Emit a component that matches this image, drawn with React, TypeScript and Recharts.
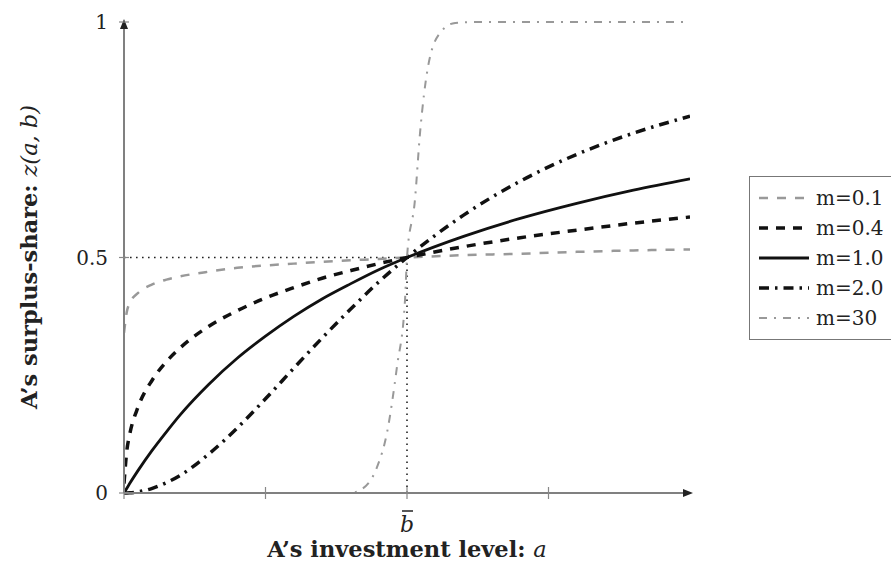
import { LineChart, Line, XAxis, YAxis, ReferenceLine, ReferenceDot } from 'recharts'

// investment level a (b̄ = 1) and surplus-share values
const aGrid = [0, 0.01, 0.02, 0.05, 0.1, 0.15, 0.2, 0.3, 0.4, 0.5, 0.6, 0.7, 0.8, 0.9, 1.0, 1.2, 1.4, 1.6, 1.8, 2.0]
const m01 = [0.34, 0.385, 0.403, 0.425, 0.443, 0.453, 0.46, 0.47, 0.478, 0.483, 0.487, 0.491, 0.494, 0.497, 0.5, 0.505, 0.508, 0.512, 0.515, 0.517]
const m04 = [0.02, 0.09, 0.124, 0.183, 0.24, 0.279, 0.309, 0.354, 0.387, 0.414, 0.436, 0.456, 0.472, 0.487, 0.5, 0.523, 0.542, 0.558, 0.573, 0.586]
const m10 = [0, 0.01, 0.02, 0.048, 0.091, 0.13, 0.167, 0.231, 0.286, 0.333, 0.375, 0.412, 0.444, 0.474, 0.5, 0.545, 0.583, 0.615, 0.643, 0.667]
const m20 = [0, 0.0001, 0.0004, 0.0025, 0.0099, 0.022, 0.038, 0.083, 0.138, 0.2, 0.265, 0.329, 0.39, 0.448, 0.5, 0.59, 0.662, 0.719, 0.764, 0.8]

const aSteep = [0, 0.8, 0.834, 0.894, 0.929, 0.965, 0.993, 1.0, 1.028, 1.046, 1.074, 1.117, 1.17, 1.25, 2.0]
const m30 = [0, 0, 0.006, 0.055, 0.127, 0.27, 0.41, 0.5, 0.622, 0.764, 0.904, 0.977, 0.998, 1, 1]

const yTicks = [0, 0.5, 1]
const xTicks = [0, 0.5, 1, 1.5]

const rows = aGrid.map((a, i) => ({ a, m01: m01[i], m04: m04[i], m10: m10[i], m20: m20[i] }))
const steepRows = aSteep.map((a, i) => ({ a, m30: m30[i] }))

const SERIF = '"DejaVu Serif", serif'
const GRAY = '#999'

const series = [
  { key: 'm01', name: 'm=0.1', color: GRAY, width: 2.5, dash: '9 9' },
  { key: 'm04', name: 'm=0.4', color: '#111', width: 3.5, dash: '9 8' },
  { key: 'm10', name: 'm=1.0', color: '#111', width: 2.8, dash: undefined },
  { key: 'm20', name: 'm=2.0', color: '#111', width: 3.5, dash: '10 6 2.5 6' },
  { key: 'm30', name: 'm=30', color: GRAY, width: 2, dash: '8 7 2 7' },
]

const YTick = (props: any) => {
  const { x, y, payload } = props
  return (
    <g>
      <line x1={x - 5} x2={x + 5} y1={y} y2={y} stroke="#888" strokeWidth={1.2} />
      <text x={x - 16} y={y} textAnchor="end" dominantBaseline="central" fontFamily={SERIF} fontSize={20} fill="#222">
        {payload.value}
      </text>
    </g>
  )
}

const XTick = (props: any) => {
  const { x, y, payload } = props
  return (
    <g>
      <line x1={x} x2={x} y1={y - 6} y2={y + 6} stroke="#888" strokeWidth={1.2} />
      {payload.value === 1 && (
        <g>
          <line x1={x - 5} x2={x + 6} y1={y + 18} y2={y + 18} stroke="#222" strokeWidth={1.5} />
          <text x={x} y={y + 39} textAnchor="middle" fontFamily={SERIF} fontStyle="italic" fontSize={22} fill="#222">
            b
          </text>
        </g>
      )}
    </g>
  )
}

const ArrowRight = (props: any) => (
  <polygon points={`${props.cx + 3},${props.cy} ${props.cx - 7},${props.cy - 4} ${props.cx - 7},${props.cy + 4}`} fill="#222" />
)
const ArrowUp = (props: any) => (
  <polygon points={`${props.cx},${props.cy - 3} ${props.cx - 4},${props.cy + 7} ${props.cx + 4},${props.cy + 7}`} fill="#222" />
)

const titleStyle = {
  position: 'absolute' as const,
  whiteSpace: 'nowrap' as const,
  fontFamily: SERIF,
  fontSize: 22.5,
  lineHeight: '22px',
  fontWeight: 'bold' as const,
  color: '#222',
}

export default function App() {
  return (
    <div style={{ position: 'absolute', left: 0, top: 0, width: 891, height: 564, overflow: 'hidden', background: '#fff' }}>
      <LineChart width={891} height={564} data={rows} margin={{ top: 22, right: 201, bottom: 31, left: 64 }}>
        <XAxis
          type="number"
          dataKey="a"
          domain={[0, 2]}
          ticks={xTicks}
          tick={<XTick />}
          tickSize={0}
          tickMargin={0}
          tickLine={false}
          axisLine={{ stroke: '#808080', strokeWidth: 2 }}
          height={40}
          allowDataOverflow
        />
        <YAxis
          type="number"
          domain={[0, 1]}
          ticks={yTicks}
          tick={<YTick />}
          tickSize={0}
          tickMargin={0}
          tickLine={false}
          axisLine={{ stroke: '#808080', strokeWidth: 2 }}
          width={60}
        />
        <ReferenceLine
          segment={[{ x: 0, y: 0.5 }, { x: 1, y: 0.5 }]}
          stroke="#222"
          strokeWidth={1.6}
          strokeDasharray="1.6 4.4"
        />
        <ReferenceLine
          segment={[{ x: 1, y: 0 }, { x: 1, y: 0.5 }]}
          stroke="#222"
          strokeWidth={1.6}
          strokeDasharray="1.6 4.4"
        />
        {series.slice(0, 4).map(s => (
          <Line
            key={s.key}
            type="monotone"
            dataKey={s.key}
            stroke={s.color}
            strokeWidth={s.width}
            strokeDasharray={s.dash}
            dot={false}
            activeDot={false}
            isAnimationActive={false}
          />
        ))}
        <Line
          data={steepRows}
          type="monotone"
          dataKey="m30"
          stroke={GRAY}
          strokeWidth={2}
          strokeDasharray="8 7 2 7"
          dot={false}
          activeDot={false}
          isAnimationActive={false}
        />
        <ReferenceDot x={2} y={0} r={4} shape={<ArrowRight />} ifOverflow="visible" />
        <ReferenceDot x={0} y={1} r={4} shape={<ArrowUp />} ifOverflow="visible" />
      </LineChart>

      <div style={{ ...titleStyle, left: 407, top: 538, transform: 'translateX(-50%)' }}>
        A’s investment level: <span style={{ fontStyle: 'italic', fontWeight: 'normal' }}>a</span>
      </div>

      <div style={{ ...titleStyle, left: 29, top: 257, transform: 'translate(-50%, -50%) rotate(-90deg)' }}>
        A’s surplus-share: <span style={{ fontStyle: 'italic', fontWeight: 'normal' }}>z(a, b)</span>
      </div>

      <div
        style={{
          position: 'absolute',
          left: 749,
          top: 176,
          width: 160,
          border: '1.5px solid #777',
          padding: '6px 0',
          fontFamily: SERIF,
          fontSize: 20,
          color: '#222',
        }}
      >
        {series.map(s => (
          <div key={s.key} style={{ height: 30, display: 'flex', alignItems: 'center' }}>
            <svg width={66} height={12} style={{ flex: 'none' }}>
              <line
                x1={9}
                x2={59}
                y1={6}
                y2={6}
                stroke={s.color}
                strokeWidth={s.width}
                strokeDasharray={s.dash}
              />
            </svg>
            <span>{s.name}</span>
          </div>
        ))}
      </div>
    </div>
  )
}
